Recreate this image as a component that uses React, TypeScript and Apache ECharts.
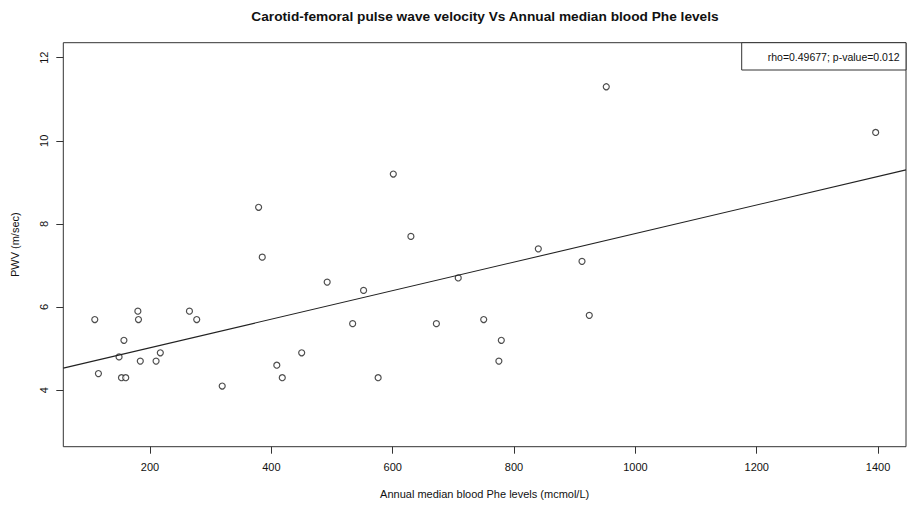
import React, { useEffect, useRef } from "react";
import * as echarts from "echarts";

const pheLevels: number[] = [
  109, 115, 149, 157, 153, 160, 180, 181, 184, 210, 217, 265, 277, 319, 379, 385,
  409, 418, 450, 492, 534, 552, 576, 601, 630, 672, 708, 750, 775, 779, 840, 912,
  924, 952, 1396,
];
const pwvValues: number[] = [
  5.7, 4.4, 4.8, 5.2, 4.3, 4.3, 5.9, 5.7, 4.7, 4.7, 4.9, 5.9, 5.7, 4.1, 8.4, 7.2,
  4.6, 4.3, 4.9, 6.6, 5.6, 6.4, 4.3, 9.2, 7.7, 5.6, 6.7, 5.7, 4.7, 5.2, 7.4, 7.1,
  5.8, 11.3, 10.2,
];
const xTicks: number[] = [200, 400, 600, 800, 1000, 1200, 1400];
const yTicks: number[] = [4, 6, 8, 10, 12];
const fitIntercept = 4.334;
const fitSlope = 0.003434;
const xRange: number[] = [57.1, 1446];
const yRange: number[] = [2.64, 12.36];
const titleText = "Carotid-femoral pulse wave velocity Vs Annual median blood Phe levels";
const xTitle = "Annual median blood Phe levels (mcmol/L)";
const yTitle = "PWV (m/sec)";
const legendText = "rho=0.49677; p-value=0.012";

const FONT = "'Liberation Sans', Arial, Helvetica, sans-serif";

export default function App() {
  const ref = useRef<HTMLDivElement>(null);
  useEffect(() => {
    if (!ref.current) return;
    const chart = echarts.init(ref.current, null, { renderer: "svg" });
    const points = pheLevels.map((x, i) => [x, pwvValues[i]]);
    const fitLine = xRange.map((x) => [x, fitIntercept + fitSlope * x]);
    chart.setOption({
      animation: false,
      backgroundColor: "#ffffff",
      title: {
        text: titleText,
        left: 480,
        top: 4,
        textAlign: "center",
        textStyle: { fontFamily: FONT, fontSize: 13.7, fontWeight: "bold", color: "#111" },
      },
      grid: {
        left: 63.3,
        right: 1,
        top: 42.7,
        bottom: 59.3,
        show: true,
        borderColor: "#333",
        borderWidth: 1,
        backgroundColor: "transparent",
      },
      xAxis: {
        type: "value",
        min: xRange[0],
        max: xRange[1],
        name: xTitle,
        nameLocation: "middle",
        nameGap: 42,
        nameTextStyle: { fontFamily: FONT, fontSize: 11, color: "#111" },
        axisLine: { show: false },
        splitLine: { show: false },
        axisTick: {
          show: true,
          length: 7,
          lineStyle: { color: "#333" },
          customValues: xTicks,
        },
        axisLabel: {
          fontFamily: FONT,
          fontSize: 11,
          color: "#111",
          margin: 15,
          customValues: xTicks,
          formatter: (v: number) => String(v),
        },
      },
      yAxis: {
        type: "value",
        min: yRange[0],
        max: yRange[1],
        name: yTitle,
        nameLocation: "middle",
        nameGap: 43,
        nameTextStyle: { fontFamily: FONT, fontSize: 11, color: "#111" },
        axisLine: { show: false },
        splitLine: { show: false },
        axisTick: {
          show: true,
          length: 7,
          lineStyle: { color: "#333" },
          customValues: yTicks,
        },
        axisLabel: {
          fontFamily: FONT,
          fontSize: 11,
          color: "#111",
          rotate: 90,
          margin: 14,
          customValues: yTicks,
          formatter: (v: number) => String(v),
        },
      },
      graphic: [
        {
          type: "rect",
          shape: { x: 741.7, y: 42.7, width: 164.3, height: 27.3 },
          style: { fill: "#fff", stroke: "#333", lineWidth: 1 },
          z: 100,
        },
        {
          type: "text",
          x: 767.7,
          y: 56.5,
          style: {
            text: legendText,
            fontFamily: FONT,
            fontSize: 10.5,
            fill: "#111",
            verticalAlign: "middle",
          },
          z: 101,
        },
      ],
      series: [
        {
          type: "line",
          data: fitLine,
          showSymbol: false,
          symbol: "none",
          lineStyle: { color: "#222", width: 1.1 },
          silent: true,
        },
        {
          type: "scatter",
          data: points,
          symbol: "circle",
          symbolSize: 6,
          itemStyle: { color: "#fff", borderColor: "#222", borderWidth: 1.2 },
        },
      ],
    });
    return () => chart.dispose();
  }, []);
  return (
    <div
      ref={ref}
      style={{ position: "fixed", left: 0, top: 0, width: 907, height: 506 }}
    />
  );
}
